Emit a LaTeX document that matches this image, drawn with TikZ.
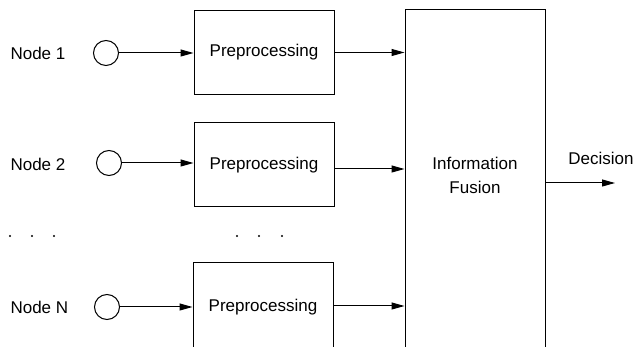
\documentclass[tikz,border=0pt]{standalone}
\usepackage{fontspec}
\setmainfont{Liberation Sans}
\usetikzlibrary{arrows.meta}
\begin{document}
\begin{tikzpicture}[x=1pt,y=-1pt,
   lbl/.style={font=\fontsize{17}{24}\selectfont},
   sensor/.style={draw,circle,line width=1pt,minimum size=25pt,inner sep=0pt},
   prebox/.style={draw,rectangle,line width=1pt,minimum width=140pt,minimum height=84pt,inner sep=0pt,lbl},
   flow/.style={line width=1pt,-{Stealth[length=13pt,width=7pt,inset=0pt]}}]
   \useasboundingbox (0,0) rectangle (641,347);
   \clip (0,0) rectangle (641,347);
   % sensors
   \node[lbl,anchor=west] (name1) at (7,53) {Node 1};
   \node[lbl,anchor=west] (name2) at (7,164) {Node 2};
   \node[lbl,anchor=west] (nameN) at (7,307) {Node N};
   \node[sensor] (s1) at (106,53) {};
   \node[sensor] (s2) at (109,163) {};
   \node[sensor] (sN) at (107,307) {};
   % preprocessing
   \node[prebox] (p1) at (264,52.5) {Preprocessing};
   \node[prebox] (p2) at (264,165) {Preprocessing};
   \node[prebox,minimum height=100pt] (pN) at (263,313) {};
   \node[lbl] (tN) at (263,307) {Preprocessing};
   % fusion
   \node[draw,rectangle,line width=1pt,minimum width=140pt,minimum height=350pt,inner sep=0pt] (fus) at (475,185) {};
   \node[lbl,align=center] (ftxt) at (475,175) {Information\\Fusion};
   \coordinate (dec) at (615,183);
   \node[lbl] (dtxt) at (601,158) {Decision};
   \coordinate (o2) at ([yshift=-4pt]p2.east);
   \coordinate (oN) at (pN.east |- 0,306);
   % arrows
   \draw[flow] (s1) -- (p1.west |- s1);
   \draw[flow] (s2) -- (p2.west |- s2);
   \draw[flow] (sN) -- (pN.west |- sN);
   \draw[flow] (p1.east) -- (fus.west |- p1.east);
   \draw[flow] (o2) -- (fus.west |- o2);
   \draw[flow] (oN) -- (fus.west |- oN);
   \draw[flow] (fus.east |- dec) -- (dec);
   % dots
   \fill (10,236) circle (1.2pt);
   \fill (32,236) circle (1.2pt);
   \fill (54,236) circle (1.2pt);
   \fill (237,236) circle (1.2pt);
   \fill (259,236) circle (1.2pt);
   \fill (282,236) circle (1.2pt);
\end{tikzpicture}
\end{document}
